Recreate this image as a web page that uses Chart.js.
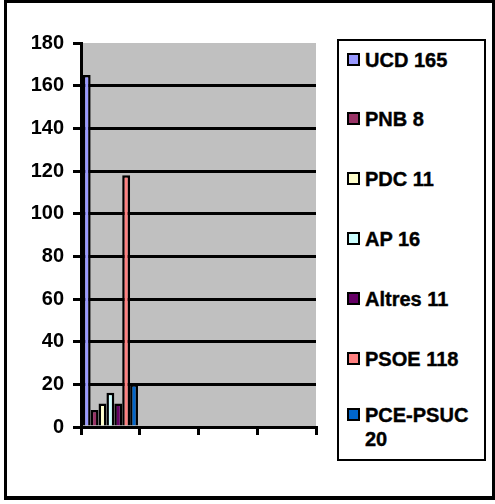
<!DOCTYPE html>
<html>
<head>
<meta charset="utf-8">
<script src="https://cdn.jsdelivr.net/npm/chart.js@4"></script>
<style>
  body { margin: 0; background: #fff; font-family: "Liberation Sans", Arial, sans-serif; }
  #frame { position: absolute; left: 4px; top: 0; width: 485px; height: 493px;
           border: 3px solid #000; border-bottom-width: 4px; border-right-width: 3px; }
  #plot { position: absolute; left: 0; top: 0; width: 320px; height: 470px; }
  #legend { position: absolute; left: 337px; top: 39px; width: 145px; height: 418px;
            border: 2px solid #000; }
  .item { position: absolute; left: 8px; font-weight: bold; font-size: 20px; line-height: 24px;
          -webkit-text-stroke: 0.4px #000; }
  .item .sw { position: absolute; left: 0; top: 5px; width: 9px; height: 9px; border: 2px solid #000; }
  .item span.t { display: block; padding-left: 18px; }
</style>
</head>
<body>
<div id="frame"></div>
<div id="plot"><canvas id="chart"></canvas></div>
<div id="legend"></div>
<script>
// Chart data
const categories = ['', '', '', ''];
const parties = ['UCD 165', 'PNB 8', 'PDC 11', 'AP 16', 'Altres 11', 'PSOE 118', 'PCE-PSUC 20'];
const seats = [165, 8, 11, 16, 11, 118, 20];
const colors = ['#9999FF', '#993366', '#FFFFCC', '#CCFFFF', '#660066', '#FF8080', '#0066CC'];
const yTicks = [0, 20, 40, 60, 80, 100, 120, 140, 160, 180];

// grey plot background
const plotBg = {
    id: 'plotBg',
    beforeDraw(chart) {
        const a = chart.chartArea;
        const ctx = chart.ctx;
        ctx.save();
        ctx.fillStyle = '#C0C0C0';
        ctx.fillRect(a.left, a.top, a.right - a.left, a.bottom - a.top);
        ctx.restore();
    }
};

const datasets = parties.map((p, i) => ({
    label: p,
    data: categories.map((c, j) => j === 0 ? seats[i] : null),
    backgroundColor: colors[i],
    borderColor: '#000',
    borderWidth: 2.5,
    borderSkipped: 'bottom'
}));

const canvas = document.getElementById('chart');
canvas.width = 320;
canvas.height = 470;

new Chart(canvas, {
    type: 'bar',
    data: { labels: categories, datasets: datasets },
    plugins: [plotBg],
    options: {
        responsive: false,
        animation: false,
        devicePixelRatio: 1,
        layout: { padding: { top: 43, right: 4, left: 0, bottom: 0 } },
        plugins: { legend: { display: false }, tooltip: { enabled: false } },
        datasets: { bar: { categoryPercentage: 0.94, barPercentage: 1 } },
        scales: {
            x: {
                offset: true,
                grid: { offset: true, drawOnChartArea: false, drawTicks: true, tickLength: 8,
                        tickColor: '#000', tickWidth: 3, lineWidth: 3 },
                border: { display: true, color: '#000', width: 3 },
                ticks: { display: true, font: { size: 1 }, color: 'transparent' },
                afterFit(s) { s.height = 470 - 427; }
            },
            y: {
                min: 0, max: 180,
                afterBuildTicks(s) { s.ticks = yTicks.map(v => ({ value: v })); },
                grid: {
                    color: c => (c.tick && c.tick.value === 180) ? 'rgba(0,0,0,0)' : '#000',
                    lineWidth: 3, tickLength: 8, tickColor: '#000', tickWidth: 3
                },
                border: { display: true, color: '#000', width: 3 },
                ticks: { color: '#000', padding: 9,
                         font: { family: '"Liberation Sans", Arial', size: 20, weight: 'bold' } },
                afterFit(s) { s.width = 81; }
            }
        }
    }
});

// HTML legend (the last label wraps onto two lines like the original)
const legend = document.getElementById('legend');
const rowTops = [7, 66, 126, 186, 246, 306, 362];
parties.forEach((p, i) => {
    const el = document.createElement('div');
    el.className = 'item';
    el.style.top = rowTops[i] + 'px';
    const sw = document.createElement('div');
    sw.className = 'sw';
    sw.style.background = colors[i];
    const t = document.createElement('span');
    t.className = 't';
    t.innerHTML = p.replace(' 20', '<br>20');
    el.appendChild(sw);
    el.appendChild(t);
    legend.appendChild(el);
});
</script>
</body>
</html>
